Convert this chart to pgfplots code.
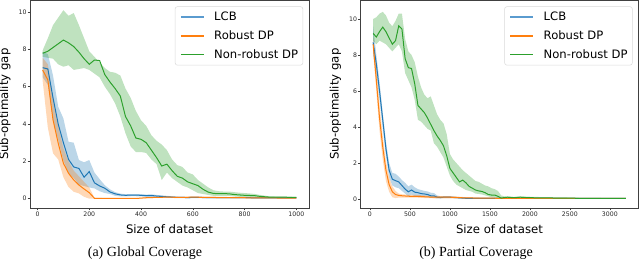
\documentclass[border=0pt]{standalone}
\usepackage{fontspec}
\setmainfont{DejaVu Sans}
\newfontfamily\capfont{Liberation Serif}
\usepackage{pgfplots}
\pgfplotsset{compat=1.18}
\usepackage{pgfplotstable}
\usepgfplotslibrary{fillbetween}
\definecolor{tabblue}{HTML}{1F77B4}
\definecolor{taborange}{HTML}{FF7F0E}
\definecolor{tabgreen}{HTML}{2CA02C}
\definecolor{legblue}{HTML}{5A9BCF}

% ---------- Global coverage ----------
\pgfplotstableread{
x mean lo hi
20 7.02 6.5 7.87
40 6.95 6.1 7.75
60 5.4 4.2 6.6
80 4.0 3.14 4.93
100 3.0 2.05 4.3
120 2.1 1.35 3.05
140 1.7 1.1 3.0
160 1.62 0.75 2.07
180 1.15 0.68 1.95
200 1.45 0.6 2.07
220 0.85 0.55 1.4
240 0.68 0.4 1.05
260 0.56 0.3 0.72
280 0.36 0.25 0.5
300 0.26 0.15 0.35
320 0.2 0.12 0.27
340 0.18 0.12 0.24
360 0.19 0.13 0.25
380 0.19 0.13 0.25
400 0.18 0.12 0.24
420 0.16 0.1 0.22
440 0.17 0.1 0.23
460 0.14 0.08 0.2
480 0.12 0.07 0.18
500 0.1 0.05 0.15
540 0.07 0.03 0.11
580 0.06 0.02 0.1
620 0.07 0.03 0.11
660 0.05 0.02 0.09
700 0.06 0.02 0.1
760 0.05 0.02 0.08
820 0.05 0.02 0.08
880 0.04 0.01 0.07
940 0.04 0.01 0.07
1000 0.04 0.01 0.07
}\lcbA
\pgfplotstableread{
x mean lo hi
20 6.89 6.3 7.55
40 6.36 3.8 7.2
60 4.22 2.43 5.3
80 2.97 2.1 3.9
100 1.9 1.15 2.7
120 1.36 0.62 2.0
140 1.0 0.37 1.5
160 0.73 0.28 1.2
180 0.52 0.1 0.9
200 0.32 0.0 0.6
220 0.02 0.0 0.05
260 0.01 0.0 0.03
300 0.01 0.0 0.03
340 0.01 0.0 0.03
380 0.01 0.0 0.03
420 0.05 0.02 0.08
460 0.07 0.04 0.1
500 0.08 0.05 0.11
560 0.07 0.04 0.1
600 0.08 0.05 0.11
660 0.07 0.04 0.1
700 0.06 0.03 0.09
760 0.05 0.02 0.08
800 0.05 0.02 0.08
860 0.04 0.01 0.07
900 0.04 0.01 0.07
960 0.03 0.01 0.06
1000 0.03 0.01 0.06
}\robA
\pgfplotstableread{
x mean lo hi
20 7.79 7.6 7.95
40 7.9 7.55 8.6
60 8.1 7.5 9.3
80 8.3 7.2 9.7
100 8.5 7.07 10.1
120 8.35 7.15 9.8
140 8.15 6.9 9.95
160 7.85 6.95 9.3
180 7.5 7.0 8.6
200 7.2 6.9 7.9
220 7.43 6.7 7.6
240 7.4 6.5 7.3
260 6.65 6.0 7.0
280 6.25 5.6 6.8
300 5.9 5.1 6.75
320 5.5 4.4 6.6
340 4.4 3.5 5.9
360 3.9 2.8 5.4
380 3.25 2.5 4.7
400 3.18 2.5 4.2
420 3.0 2.45 3.9
440 2.6 2.1 3.4
460 2.2 1.85 3.1
480 1.75 1.0 2.9
500 1.85 1.4 2.6
520 1.5 1.1 2.1
540 1.2 0.9 1.8
560 1.1 0.7 1.7
580 0.9 0.6 1.4
600 0.8 0.45 1.3
620 0.7 0.3 1.0
640 0.5 0.25 0.8
660 0.35 0.2 0.6
680 0.28 0.15 0.45
700 0.27 0.15 0.4
720 0.27 0.15 0.38
740 0.26 0.15 0.38
760 0.22 0.12 0.35
780 0.2 0.1 0.32
800 0.18 0.1 0.3
820 0.17 0.08 0.28
840 0.16 0.08 0.25
860 0.12 0.06 0.2
880 0.1 0.05 0.16
900 0.08 0.04 0.12
940 0.08 0.04 0.11
1000 0.07 0.04 0.1
}\nrA

% ---------- Partial coverage ----------
\pgfplotstableread{
x mean lo hi
40 8.7 8.0 9.6
80 7.5 7.0 8.0
120 6.0 5.5 6.5
160 4.4 3.9 4.8
200 2.8 2.4 3.2
240 1.6 1.2 2.0
280 1.1 0.75 1.45
320 1.02 0.65 1.4
360 0.95 0.6 1.25
400 0.75 0.45 1.05
440 0.55 0.3 0.9
480 0.4 0.15 0.7
520 0.5 0.25 0.8
560 0.38 0.15 0.65
600 0.35 0.15 0.55
640 0.3 0.12 0.5
680 0.28 0.1 0.45
720 0.25 0.1 0.42
760 0.18 0.06 0.35
800 0.18 0.06 0.33
840 0.1 0.03 0.2
880 0.08 0.03 0.15
920 0.1 0.05 0.15
1000 0.1 0.05 0.15
1100 0.07 0.03 0.12
1200 0.04 0.01 0.08
1400 0.04 0.01 0.07
1600 0.04 0.01 0.07
1800 0.03 0.01 0.06
2000 0.03 0.01 0.06
2400 0.03 0.01 0.05
2800 0.03 0.01 0.05
3200 0.03 0.01 0.05
}\lcbB
\pgfplotstableread{
x mean lo hi
40 8.6 8.2 9.0
80 6.6 6.0 7.2
120 4.5 3.8 5.2
160 2.9 2.2 3.5
200 1.6 1.0 2.1
240 0.8 0.4 1.2
280 0.4 0.1 0.7
320 0.25 0.05 0.45
360 0.2 0.08 0.3
400 0.18 0.08 0.26
500 0.15 0.07 0.23
600 0.15 0.07 0.22
700 0.12 0.05 0.19
800 0.1 0.04 0.16
900 0.1 0.04 0.16
1000 0.1 0.04 0.16
1100 0.08 0.03 0.13
1200 0.06 0.02 0.1
1400 0.05 0.02 0.08
1600 0.04 0.01 0.07
2000 0.04 0.01 0.07
2400 0.03 0.01 0.06
2800 0.03 0.01 0.05
3200 0.03 0.01 0.05
}\robB
\pgfplotstableread{
x mean lo hi
40 9.2 8.8 10.0
80 9.0 8.6 10.1
120 9.3 8.8 10.3
160 9.55 8.7 10.4
200 9.3 8.6 10.2
240 8.95 8.4 9.8
280 8.6 8.2 9.6
320 8.8 8.4 9.9
360 9.62 8.6 10.3
400 9.45 8.2 10.3
440 7.8 7.0 8.9
480 7.3 6.6 8.2
520 7.25 6.2 8.0
560 6.4 5.5 7.6
600 5.2 4.4 6.8
640 5.0 4.3 6.2
680 4.8 4.1 5.8
720 4.5 3.9 5.6
760 4.15 3.8 5.7
800 3.8 3.1 5.2
840 3.5 2.9 4.7
880 3.25 2.6 4.4
920 2.95 2.3 4.2
960 2.4 1.8 3.6
1000 1.7 1.3 2.5
1040 1.45 1.0 2.2
1080 1.2 0.8 2.0
1120 0.95 0.7 1.8
1160 1.05 0.6 1.6
1200 0.9 0.5 1.45
1240 0.7 0.45 1.3
1280 0.6 0.4 1.15
1320 0.5 0.3 1.0
1360 0.45 0.28 0.95
1400 0.42 0.25 0.85
1440 0.35 0.2 0.75
1480 0.25 0.15 0.7
1520 0.22 0.1 0.6
1560 0.22 0.08 0.55
1600 0.15 0.05 0.45
1640 0.05 0.0 0.2
1680 0.08 0.03 0.15
1720 0.1 0.05 0.15
1800 0.07 0.03 0.12
1880 0.1 0.05 0.15
1960 0.08 0.04 0.13
2040 0.07 0.03 0.12
2200 0.06 0.03 0.1
2400 0.05 0.02 0.09
2600 0.04 0.02 0.07
2800 0.04 0.02 0.06
3000 0.03 0.01 0.05
3200 0.03 0.01 0.05
}\nrB

\pgfplotsset{legend image code/.code={\draw[#1] (0bp,0bp) -- (23bp,0bp);}}
\pgfplotsset{
  myaxis/.style={
    scale only axis, height=207.5bp,
    axis line style={black!75, line width=0.6bp},
    tick align=outside, major tick length=2.5bp,
    tick style={black!75, line width=0.5bp},
    xtick pos=left, ytick pos=left,
    ticklabel style={font=\fontsize{6.2bp}{7bp}\selectfont, text=black!85},
    /pgf/number format/assume math mode=true,
    /pgf/number format/1000 sep={},
    scaled ticks=false,
    xticklabel style={anchor=north, inner sep=0pt, yshift=-1.5bp},
    yticklabel style={anchor=east, inner sep=0pt, xshift=-0.8bp},
    every axis x label/.style={at={(axis description cs:0.5,0)}, anchor=base, yshift=-25bp,
      font=\fontsize{11.7bp}{13bp}\selectfont},
    every axis y label/.style={at={(axis description cs:0,0.5)}, xshift=-25bp, rotate=90, anchor=center,
      font=\fontsize{11.7bp}{13bp}\selectfont},
    xlabel={Size of dataset}, ylabel={Sub-optimality gap},
    ymin=-0.5, ytick={0,2,4,6,8,10},
    legend style={at={(1,1)}, anchor=north east, xshift=-6bp, yshift=-6bp,
      draw=black!15, line width=0.5bp, rounded corners=2bp, fill=white,
      font=\fontsize{11.6bp}{13bp}\selectfont,
      nodes={inner sep=0pt}, inner xsep=4.7bp, inner ysep=5.5bp,
      row sep=8.3bp, column sep=9.3bp},
    legend cell align=left,
  },
  band/.style={fill=#1, fill opacity=0.3, draw=none, forget plot},
  mean/.style={draw=#1, line width=1bp, forget plot},
  legline/.style={color=#1, draw=#1, solid, line width=1.5bp},
}

\begin{document}
\begin{tikzpicture}

\begin{axis}[myaxis, at={(30bp,52bp)}, anchor=south west, width=279bp,
  xmin=-29, xmax=1049, ymax=10.62, xtick={0,200,400,600,800,1000}]
  \addlegendimage{legline=legblue, line width=2bp}
  \addlegendentry{LCB}
  \addlegendimage{legline=taborange}
  \addlegendentry{Robust DP}
  \addlegendimage{legline=tabgreen}
  \addlegendentry{Non-robust DP}
  \addplot[name path=aLU, draw=none, forget plot] table[x=x,y=hi]{\lcbA};
  \addplot[name path=aLL, draw=none, forget plot] table[x=x,y=lo]{\lcbA};
  \addplot[band=tabblue] fill between[of=aLU and aLL];
  \addplot[mean=tabblue] table[x=x,y=mean]{\lcbA};
  \addplot[name path=aRU, draw=none, forget plot] table[x=x,y=hi]{\robA};
  \addplot[name path=aRL, draw=none, forget plot] table[x=x,y=lo]{\robA};
  \addplot[band=taborange] fill between[of=aRU and aRL];
  \addplot[mean=taborange] table[x=x,y=mean]{\robA};
  \addplot[name path=aNU, draw=none, forget plot] table[x=x,y=hi]{\nrA};
  \addplot[name path=aNL, draw=none, forget plot] table[x=x,y=lo]{\nrA};
  \addplot[band=tabgreen] fill between[of=aNU and aNL];
  \addplot[mean=tabgreen] table[x=x,y=mean]{\nrA};
\end{axis}

\begin{axis}[myaxis, at={(360.5bp,52bp)}, anchor=south west, width=278bp,
  xmin=-118, xmax=3358, ymax=11.03, xtick={0,500,1000,1500,2000,2500,3000}]
  \addlegendimage{legline=legblue, line width=2bp}
  \addlegendentry{LCB}
  \addlegendimage{legline=taborange}
  \addlegendentry{Robust DP}
  \addlegendimage{legline=tabgreen}
  \addlegendentry{Non-robust DP}
  \addplot[name path=bLU, draw=none, forget plot] table[x=x,y=hi]{\lcbB};
  \addplot[name path=bLL, draw=none, forget plot] table[x=x,y=lo]{\lcbB};
  \addplot[band=tabblue] fill between[of=bLU and bLL];
  \addplot[mean=tabblue] table[x=x,y=mean]{\lcbB};
  \addplot[name path=bRU, draw=none, forget plot] table[x=x,y=hi]{\robB};
  \addplot[name path=bRL, draw=none, forget plot] table[x=x,y=lo]{\robB};
  \addplot[band=taborange] fill between[of=bRU and bRL];
  \addplot[mean=taborange] table[x=x,y=mean]{\robB};
  \addplot[name path=bNU, draw=none, forget plot] table[x=x,y=hi]{\nrB};
  \addplot[name path=bNL, draw=none, forget plot] table[x=x,y=lo]{\nrB};
  \addplot[band=tabgreen] fill between[of=bNU and bNL];
  \addplot[mean=tabgreen] table[x=x,y=mean]{\nrB};
\end{axis}

\node[anchor=base, font=\capfont\fontsize{14bp}{16bp}\selectfont, inner sep=0pt] at (145bp,4bp) {(a) Global Coverage};
\node[anchor=base, font=\capfont\fontsize{14bp}{16bp}\selectfont, inner sep=0pt] at (476bp,4bp) {(b) Partial Coverage};
\pgfresetboundingbox
\path[use as bounding box] (0,0) rectangle (640bp,260bp);
\end{tikzpicture}
\end{document}
